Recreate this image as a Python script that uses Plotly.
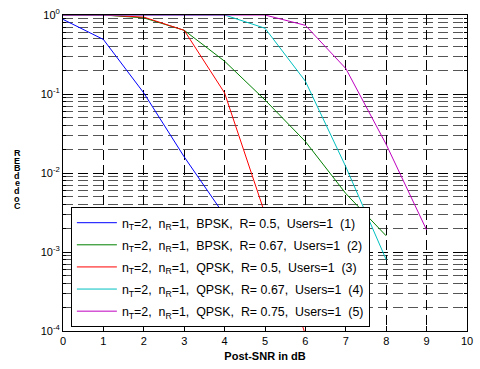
import plotly.graph_objects as go

snr = [0, 1, 2, 3, 4, 5, 6, 7, 8, 9]

ber1 = [0.88, 0.49, 0.103, 0.016, 0.0029]
ber2 = [1.0, 1.0, 0.92, 0.64, 0.26, 0.084, 0.025, 0.0055, 0.0016]
ber3 = [1.0, 1.0, 0.94, 0.64, 0.103, 0.0030, 0.00009]
ber4 = [1.0, 1.0, 1.0, 1.0, 1.0, 0.68, 0.145, 0.012, 0.0008]
ber5 = [1.0, 1.0, 1.0, 1.0, 1.0, 1.0, 0.74, 0.21, 0.023, 0.0019]

names = [
    "n<sub>T</sub>=2,\u00a0 n<sub>R</sub>=1,\u00a0 BPSK,\u00a0 R= 0.5,\u00a0 Users=1\u00a0 (1)",
    "n<sub>T</sub>=2,\u00a0 n<sub>R</sub>=1,\u00a0 BPSK,\u00a0 R= 0.67,\u00a0 Users=1\u00a0 (2)",
    "n<sub>T</sub>=2,\u00a0 n<sub>R</sub>=1,\u00a0 QPSK,\u00a0 R= 0.5,\u00a0 Users=1\u00a0 (3)",
    "n<sub>T</sub>=2,\u00a0 n<sub>R</sub>=1,\u00a0 QPSK,\u00a0 R= 0.67,\u00a0 Users=1\u00a0 (4)",
    "n<sub>T</sub>=2,\u00a0 n<sub>R</sub>=1,\u00a0 QPSK,\u00a0 R= 0.75,\u00a0 Users=1\u00a0 (5)",
]
series = [ber1, ber2, ber3, ber4, ber5]
colors = ["#0000ff", "#008000", "#ff0000", "#00bfbf", "#bf00bf"]

ytickvals = [1, 0.1, 0.01, 0.001, 0.0001]
yticktext = ["10<sup>0</sup>", "10<sup>-1</sup>", "10<sup>-2</sup>", "10<sup>-3</sup>", "10<sup>-4</sup>"]
xticks = list(range(0, 11))

ylabel_letters = ["R", "E", "B", "d", "e", "d", "o", "C"]

FONT = "Arial, Liberation Sans, sans-serif"

fig = go.Figure()
for k, (ys, nm, c) in enumerate(zip(series, names, colors)):
    fig.add_trace(go.Scatter(x=snr[:len(ys)], y=ys, mode="lines", name=nm,
                             legendgroup="g%d" % k,
                             line=dict(color=c, width=1)))

dash = "10px,5px"
fig.update_layout(
    width=480, height=369,
    margin=dict(l=63, r=7, t=8, b=38),
    paper_bgcolor="white", plot_bgcolor="white",
    font=dict(family=FONT, size=11, color="black"),
    showlegend=True,
    legend=dict(x=0.0195, y=0.392, xanchor="left", yanchor="top",
                bgcolor="white", bordercolor="black", borderwidth=1,
                font=dict(size=12.4, family=FONT), itemwidth=40,
                tracegroupgap=3),
    xaxis=dict(range=[0, 10], tickvals=xticks, ticktext=[str(t) for t in xticks],
               showline=True, linecolor="black", linewidth=1, mirror="ticks",
               ticks="inside", ticklen=5, tickcolor="black",
               showgrid=True, gridcolor="black", gridwidth=1, griddash=dash,
               zeroline=False,
               title=dict(text="<b>Post-SNR in dB</b>", font=dict(size=11), standoff=6)),
    yaxis=dict(type="log", range=[-4, 0], tickvals=ytickvals, ticktext=yticktext,
               showline=True, linecolor="black", linewidth=1, mirror="ticks",
               ticks="inside", ticklen=5, tickcolor="black",
               showgrid=True, gridcolor="black", gridwidth=1, griddash=dash,
               zeroline=False,
               minor=dict(dtick="D1", ticks="inside", ticklen=3, tickcolor="black",
                          showgrid=True, gridcolor="#555555", gridwidth=1, griddash=dash)),
)

for i, ch in enumerate(ylabel_letters):
    fig.add_annotation(text="<b>" + ch + "</b>", xref="paper", yref="paper",
                       x=-0.113, y=(331 - 149 - i * 7.8) / 323, showarrow=False,
                       xanchor="center", yanchor="middle",
                       font=dict(size=9, family=FONT, color="black"))

fig.write_html("out.html")
